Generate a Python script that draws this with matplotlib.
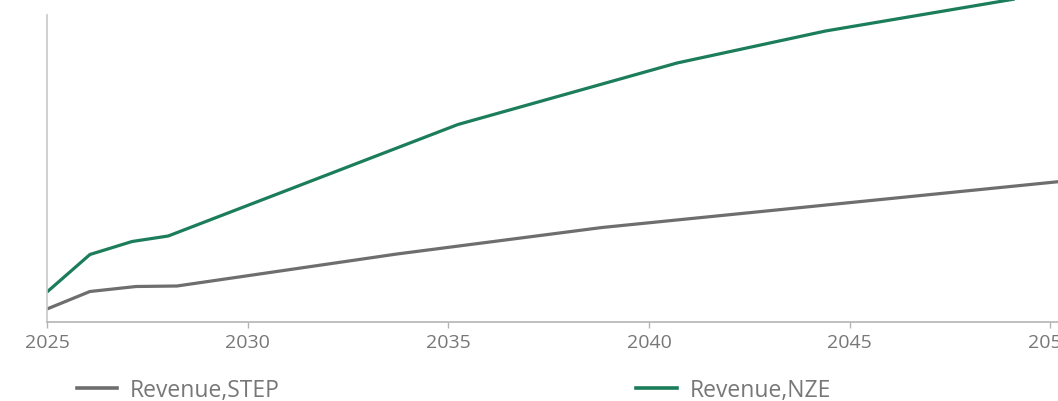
import matplotlib
matplotlib.use("Agg")
import matplotlib.pyplot as plt
from matplotlib.lines import Line2D

# values (arbitrary units, no y scale shown)
step_years = [2025.0, 2026.07, 2027.22, 2028.24, 2033.72, 2038.83, 2050.0, 2052.0]
step_revenue = [13, 30.5, 35.5, 36, 68, 94.5, 139.5, 147.5]

nze_years = [2025.0, 2026.07, 2027.12, 2028.02, 2035.24, 2040.7, 2044.4, 2050.0, 2052.0]
nze_revenue = [30, 67.5, 80.5, 86, 197.5, 259, 291, 329, 342]

tick_years = [2025, 2030, 2035, 2040, 2045, 2050]

GREEN = "#1b7d5a"
GREY = "#6e6e6e"
TEXT = "#777777"

plt.rcParams["font.family"] = ["Open Sans", "DejaVu Sans"]

fig = plt.figure(figsize=(10.58, 4.02), dpi=100)
ax = fig.add_axes([47 / 1058, 1 - 323 / 402, 1 - 47 / 1058, 323 / 402])

ax.plot(step_years, step_revenue, color=GREY, lw=2.3, solid_capstyle="butt")
ax.plot(nze_years, nze_revenue, color=GREEN, lw=2.3, solid_capstyle="butt")

ax.set_xlim(2025, 2025 + (1058 - 47) / 40.13)
ax.set_ylim(0, 323)

for side in ["top", "right"]:
    ax.spines[side].set_visible(False)
ax.spines["left"].set_color("#c8c8c8")
ax.spines["left"].set_bounds(0, 323 - 16)
ax.spines["bottom"].set_color("#b4b4b4")
ax.spines["left"].set_linewidth(1.2)
ax.spines["bottom"].set_linewidth(1.2)

ax.set_yticks([])
ax.set_xticks(tick_years)
ax.set_xticklabels([str(y) for y in tick_years])
ax.tick_params(axis="x", length=4.5, width=1, color="#b4b4b4", labelcolor=TEXT,
               labelsize=14, pad=3.5)

legend_items = [("Revenue,STEP", GREY, 76.7), ("Revenue,NZE", GREEN, 636)]
for label, colour, x_px in legend_items:
    handle = Line2D([], [], color=colour, lw=2.6)
    fig.legend([handle], [label], loc="center left",
               bbox_to_anchor=(x_px / 1058, 1 - 391 / 402),
               frameon=False, borderpad=0, borderaxespad=0,
               handlelength=1.78, handletextpad=0.55,
               fontsize=16.5, labelcolor=TEXT)

fig.savefig("out.png", dpi=100)
